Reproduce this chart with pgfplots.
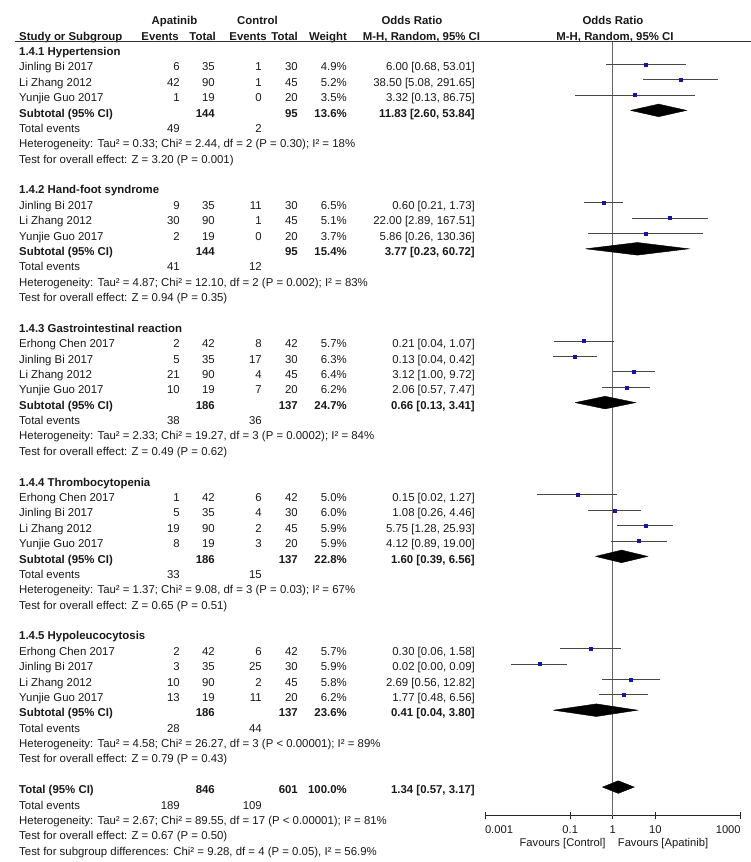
\documentclass[border=0pt]{standalone}
\usepackage{fontspec}
\setmainfont{Liberation Sans}
\usepackage{pgfplots}
\pgfplotsset{compat=1.18}
\definecolor{ptblue}{RGB}{20,20,170}
\definecolor{txt}{RGB}{25,25,25}
\newcommand{\Y}[1]{806.5-15.38*(#1)}
\newcommand{\F}{\fontsize{11.4}{13.7}\selectfont}
\newcommand{\FB}{\fontsize{11.4}{13.7}\selectfont\bfseries}
\tikzset{
  L/.style={anchor=base west,inner sep=0pt,font=\F,text=txt},
  R/.style={anchor=base east,inner sep=0pt,font=\F,text=txt},
  C/.style={anchor=base,inner sep=0pt,font=\F,text=txt},
  LB/.style={anchor=base west,inner sep=0pt,font=\FB,text=txt},
  RB/.style={anchor=base east,inner sep=0pt,font=\FB,text=txt},
  CB/.style={anchor=base,inner sep=0pt,font=\FB,text=txt}
}
\pgfplotsset{
  ciline/.style={black!72, line width=0.9pt, mark=none, forget plot},
  ptmark/.style={only marks, mark=square*, mark size=1.5pt, color=ptblue, forget plot},
  diam/.style={fill=black, draw=black, line width=0.4pt, mark=none, forget plot}
}
% study row: r, name, e1, t1, e2, t2, weight, OR text
\newcommand{\srow}[8]{%
  \node[L] at (19,{\Y{#1}}) {#2};
  \node[R] at (180,{\Y{#1}}) {#3};
  \node[R] at (215,{\Y{#1}}) {#4};
  \node[R] at (262,{\Y{#1}}) {#5};
  \node[R] at (298,{\Y{#1}}) {#6};
  \node[R] at (347,{\Y{#1}}) {#7};
  \node[R] at (475,{\Y{#1}}) {#8};
}
% subtotal row: r, label, t1, t2, weight, OR text
\newcommand{\subrow}[6]{%
  \node[LB] at (19,{\Y{#1}}) {#2};
  \node[RB] at (215,{\Y{#1}}) {#3};
  \node[RB] at (298,{\Y{#1}}) {#4};
  \node[RB] at (347,{\Y{#1}}) {#5};
  \node[RB] at (475,{\Y{#1}}) {#6};
}
% total events row: r, e1, e2
\newcommand{\terow}[3]{%
  \node[L] at (19,{\Y{#1}}) {Total events};
  \node[R] at (180,{\Y{#1}}) {#2};
  \node[R] at (262,{\Y{#1}}) {#3};
}
\newcommand{\lrow}[2]{\node[L] at (19,{\Y{#1}}) {#2};}
\newcommand{\hrow}[2]{\node[LB] at (19,{\Y{#1}}) {#2};}
% forest plot study: r, OR, lo, hi
\newcommand{\study}[4]{%
  \addplot[ciline] coordinates {(#3,-#1) (#4,-#1)};
  \addplot[ptmark] coordinates {(#2,-#1)};
}

\begin{document}
\begin{tikzpicture}[x=1pt,y=1pt]
\useasboundingbox (0,0) rectangle (751,862);

% ---------- headers ----------
\node[CB] at (174.5,{\Y{-2}}) {Apatinib};
\node[CB] at (257.5,{\Y{-2}}) {Control};
\node[CB] at (412,{\Y{-2}}) {Odds Ratio};
\node[CB] at (613,{\Y{-2}}) {Odds Ratio};
\node[LB] at (19,{\Y{-1}}) {Study or Subgroup};
\node[RB] at (179,{\Y{-1}}) {Events};
\node[RB] at (216,{\Y{-1}}) {Total};
\node[RB] at (267,{\Y{-1}}) {Events};
\node[RB] at (298,{\Y{-1}}) {Total};
\node[RB] at (347,{\Y{-1}}) {Weight};
\node[CB] at (421.5,{\Y{-1}}) {M-H, Random, 95\% CI};
\node[CB] at (615,{\Y{-1}}) {M-H, Random, 95\% CI};
\draw[black!80, line width=1.1pt] (15,820.3) -- (751,820.3);

% ---------- 1.4.1 ----------
\hrow{0}{1.4.1 Hypertension}
\srow{1}{Jinling Bi 2017}{6}{35}{1}{30}{4.9\%}{6.00 [0.68, 53.01]}
\srow{2}{Li Zhang 2012}{42}{90}{1}{45}{5.2\%}{38.50 [5.08, 291.65]}
\srow{3}{Yunjie Guo 2017}{1}{19}{0}{20}{3.5\%}{3.32 [0.13, 86.75]}
\subrow{4}{Subtotal (95\% CI)}{144}{95}{13.6\%}{11.83 [2.60, 53.84]}
\terow{5}{49}{2}
\lrow{6}{Heterogeneity: Tau² = 0.33; Chi² = 2.44, df = 2 (P = 0.30); I² = 18\%}
\lrow{7}{Test for overall effect: Z = 3.20 (P = 0.001)}

% ---------- 1.4.2 ----------
\hrow{9}{1.4.2 Hand-foot syndrome}
\srow{10}{Jinling Bi 2017}{9}{35}{11}{30}{6.5\%}{0.60 [0.21, 1.73]}
\srow{11}{Li Zhang 2012}{30}{90}{1}{45}{5.1\%}{22.00 [2.89, 167.51]}
\srow{12}{Yunjie Guo 2017}{2}{19}{0}{20}{3.7\%}{5.86 [0.26, 130.36]}
\subrow{13}{Subtotal (95\% CI)}{144}{95}{15.4\%}{3.77 [0.23, 60.72]}
\terow{14}{41}{12}
\lrow{15}{Heterogeneity: Tau² = 4.87; Chi² = 12.10, df = 2 (P = 0.002); I² = 83\%}
\lrow{16}{Test for overall effect: Z = 0.94 (P = 0.35)}

% ---------- 1.4.3 ----------
\hrow{18}{1.4.3 Gastrointestinal reaction}
\srow{19}{Erhong Chen 2017}{2}{42}{8}{42}{5.7\%}{0.21 [0.04, 1.07]}
\srow{20}{Jinling Bi 2017}{5}{35}{17}{30}{6.3\%}{0.13 [0.04, 0.42]}
\srow{21}{Li Zhang 2012}{21}{90}{4}{45}{6.4\%}{3.12 [1.00, 9.72]}
\srow{22}{Yunjie Guo 2017}{10}{19}{7}{20}{6.2\%}{2.06 [0.57, 7.47]}
\subrow{23}{Subtotal (95\% CI)}{186}{137}{24.7\%}{0.66 [0.13, 3.41]}
\terow{24}{38}{36}
\lrow{25}{Heterogeneity: Tau² = 2.33; Chi² = 19.27, df = 3 (P = 0.0002); I² = 84\%}
\lrow{26}{Test for overall effect: Z = 0.49 (P = 0.62)}

% ---------- 1.4.4 ----------
\hrow{28}{1.4.4 Thrombocytopenia}
\srow{29}{Erhong Chen 2017}{1}{42}{6}{42}{5.0\%}{0.15 [0.02, 1.27]}
\srow{30}{Jinling Bi 2017}{5}{35}{4}{30}{6.0\%}{1.08 [0.26, 4.46]}
\srow{31}{Li Zhang 2012}{19}{90}{2}{45}{5.9\%}{5.75 [1.28, 25.93]}
\srow{32}{Yunjie Guo 2017}{8}{19}{3}{20}{5.9\%}{4.12 [0.89, 19.00]}
\subrow{33}{Subtotal (95\% CI)}{186}{137}{22.8\%}{1.60 [0.39, 6.56]}
\terow{34}{33}{15}
\lrow{35}{Heterogeneity: Tau² = 1.37; Chi² = 9.08, df = 3 (P = 0.03); I² = 67\%}
\lrow{36}{Test for overall effect: Z = 0.65 (P = 0.51)}

% ---------- 1.4.5 ----------
\hrow{38}{1.4.5 Hypoleucocytosis}
\srow{39}{Erhong Chen 2017}{2}{42}{6}{42}{5.7\%}{0.30 [0.06, 1.58]}
\srow{40}{Jinling Bi 2017}{3}{35}{25}{30}{5.9\%}{0.02 [0.00, 0.09]}
\srow{41}{Li Zhang 2012}{10}{90}{2}{45}{5.8\%}{2.69 [0.56, 12.82]}
\srow{42}{Yunjie Guo 2017}{13}{19}{11}{20}{6.2\%}{1.77 [0.48, 6.56]}
\subrow{43}{Subtotal (95\% CI)}{186}{137}{23.6\%}{0.41 [0.04, 3.80]}
\terow{44}{28}{44}
\lrow{45}{Heterogeneity: Tau² = 4.58; Chi² = 26.27, df = 3 (P < 0.00001); I² = 89\%}
\lrow{46}{Test for overall effect: Z = 0.79 (P = 0.43)}

% ---------- Total ----------
\subrow{48}{Total (95\% CI)}{846}{601}{100.0\%}{1.34 [0.57, 3.17]}
\terow{49}{189}{109}
\lrow{50}{Heterogeneity: Tau² = 2.67; Chi² = 89.55, df = 17 (P < 0.00001); I² = 81\%}
\lrow{51}{Test for overall effect: Z = 0.67 (P = 0.50)}
\lrow{52}{Test for subgroup differences: Chi² = 9.28, df = 4 (P = 0.05), I² = 56.9\%}

% ---------- forest plot ----------
\begin{axis}[
  at={(485pt,46pt)}, anchor=south west,
  scale only axis, width=255.7pt, height=774.3pt,
  xmode=log, xmin=0.001, xmax=1000,
  ymin=-49.88, ymax=0.468,
  axis y line=none,
  axis x line*=bottom,
  x axis line style={line width=1pt, black!85, -},
  xtick={0.001,0.1,1,10,1000},
  xticklabels={\rlap{0.001},0.1,1,10,\llap{1000}},
  xminorticks=false,
  tick align=center, major tick length=7pt,
  every tick/.style={black!85, line width=1pt},
  xticklabel style={anchor=base, yshift=-14pt, font=\fontsize{11.2}{13}\selectfont, text=txt, inner sep=0pt},
  clip=false,
]
\addplot[black!60, line width=1pt, forget plot] coordinates {(1,0.468) (1,-49.88)};

% 1.4.1
\study{1}{6.00}{0.68}{53.01}
\study{2}{38.50}{5.08}{291.65}
\study{3}{3.32}{0.13}{86.75}
\addplot[diam] coordinates {(2.60,-4) (11.83,-3.59) (53.84,-4) (11.83,-4.41) (2.60,-4)};
% 1.4.2
\study{10}{0.60}{0.21}{1.73}
\study{11}{22.00}{2.89}{167.51}
\study{12}{5.86}{0.26}{130.36}
\addplot[diam] coordinates {(0.23,-13) (3.77,-12.59) (60.72,-13) (3.77,-13.41) (0.23,-13)};
% 1.4.3
\study{19}{0.2125}{0.0422}{1.07}
\study{20}{0.1275}{0.0388}{0.42}
\study{21}{3.12}{1.00}{9.72}
\study{22}{2.06}{0.57}{7.47}
\addplot[diam] coordinates {(0.13,-23) (0.66,-22.59) (3.41,-23) (0.66,-23.41) (0.13,-23)};
% 1.4.4
\study{29}{0.146}{0.0168}{1.27}
\study{30}{1.08}{0.26}{4.46}
\study{31}{5.75}{1.28}{25.93}
\study{32}{4.12}{0.89}{19.00}
\addplot[diam] coordinates {(0.39,-33) (1.60,-32.59) (6.56,-33) (1.60,-33.41) (0.39,-33)};
% 1.4.5
\study{39}{0.30}{0.0569}{1.58}
\study{40}{0.01875}{0.0041}{0.086}
\study{41}{2.69}{0.56}{12.82}
\study{42}{1.77}{0.48}{6.56}
\addplot[diam] coordinates {(0.04,-43) (0.41,-42.59) (3.80,-43) (0.41,-43.41) (0.04,-43)};
% Total
\addplot[diam] coordinates {(0.57,-48) (1.34,-47.59) (3.17,-48) (1.34,-48.41) (0.57,-48)};
\end{axis}

\node[anchor=base east, inner sep=0pt, font=\fontsize{11.2}{13}\selectfont, text=txt] at (605.7,16) {Favours [Control]};
\node[anchor=base west, inner sep=0pt, font=\fontsize{11.2}{13}\selectfont, text=txt] at (617.7,16) {Favours [Apatinib]};
\end{tikzpicture}
\end{document}
